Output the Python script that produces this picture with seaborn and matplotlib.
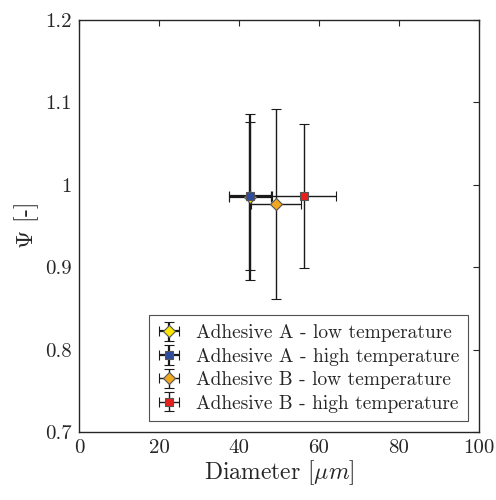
import matplotlib
matplotlib.use("Agg")
import matplotlib.pyplot as plt
import seaborn as sns

# données
labels = ["Adhesive A - low temperature", "Adhesive A - high temperature",
          "Adhesive B - low temperature", "Adhesive B - high temperature"]
diam = [42.8, 42.8, 49.3, 56.2]
diam_err = [5.2, 5.2, 6.3, 8.0]
psi = [0.985, 0.986, 0.977, 0.986]
psi_err = [0.101, 0.090, 0.115, 0.0875]
colors = ["#FFE600", "#2E4C9E", "#F0A820", "#E8201C"]
markers = ["D", "s", "D", "s"]
lw = [1.6, 1.6, 1.0, 1.0]

sns.set_style("white")
plt.rcParams["font.family"] = "serif"
plt.rcParams["font.serif"] = ["cmr10"]
plt.rcParams["mathtext.fontset"] = "cm"
plt.rcParams["axes.formatter.use_mathtext"] = True

fig = plt.figure(figsize=(4.96, 5.0), dpi=100)
ax = fig.add_axes([79 / 496, 68 / 500, 400 / 496, 412 / 500])

for i in range(len(labels)):
    ax.errorbar(diam[i], psi[i], xerr=diam_err[i], yerr=psi_err[i],
                fmt=markers[i], color="#1a1a1a", ecolor="#1a1a1a",
                elinewidth=lw[i], capsize=3.5, capthick=lw[i],
                markerfacecolor=colors[i], markeredgecolor="#555555",
                markersize=6.5 if markers[i] == "D" else 5.5,
                markeredgewidth=0.8, label=labels[i])

ax.set_xlim(0, 100)
ax.set_ylim(0.7, 1.2)
ax.set_xticks([0, 20, 40, 60, 80, 100])
ax.set_xticklabels(["0", "20", "40", "60", "80", "100"])
ax.set_yticks([0.7, 0.8, 0.9, 1.0, 1.1, 1.2])
ax.set_yticklabels(["0.7", "0.8", "0.9", "1", "1.1", "1.2"])
ax.tick_params(direction="in", length=4, width=0.8, colors="#262626",
               labelsize=15, top=True, right=True, pad=5)
for lab in ax.get_xticklabels() + ax.get_yticklabels():
    lab.set_color("#262626")
for s in ax.spines.values():
    s.set_color("#262626")
    s.set_linewidth(1.0)

ax.set_xlabel(r"Diameter [$\mu m$]", fontsize=17, color="#262626", labelpad=1)
ax.set_ylabel(r"$\Psi$ [-]", fontsize=17, color="#262626", labelpad=3)

leg = ax.legend(loc="lower right", fontsize=14, frameon=True, fancybox=False,
                edgecolor="#262626", borderpad=0.45, labelspacing=0.28,
                handlelength=1.2, handletextpad=0.8, borderaxespad=0.55)
leg.get_frame().set_linewidth(0.8)

fig.savefig("out.png", dpi=100)
